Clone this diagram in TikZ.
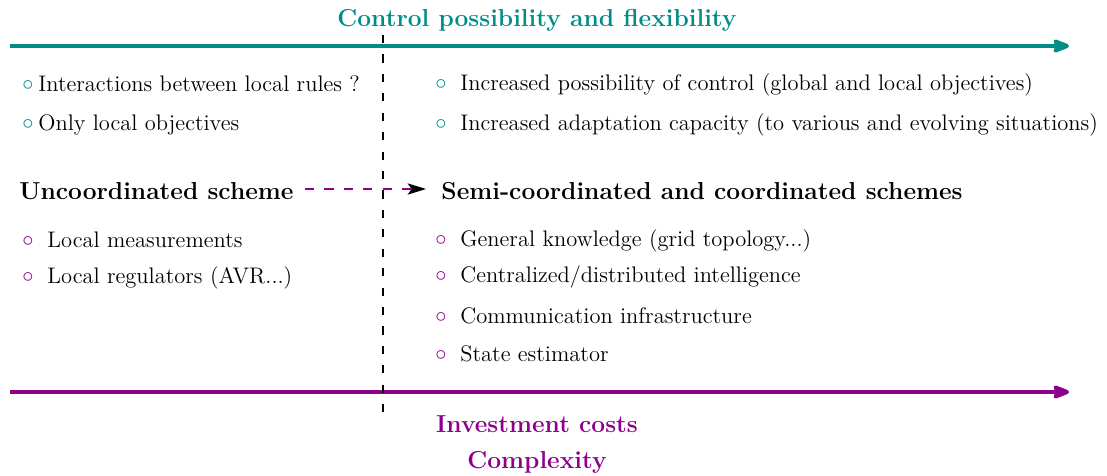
\documentclass[tikz,border=0pt]{standalone}
\usetikzlibrary{arrows.meta}
\definecolor{tealc}{RGB}{0,140,135}
\definecolor{purpc}{RGB}{140,0,140}
\begin{document}
\begin{tikzpicture}[x=0.489pt,y=-0.489pt,
  txt/.style={anchor=west,inner sep=0pt,text height=7.5pt,text depth=2.5pt,font=\fontsize{11}{13}\selectfont},
  hdr/.style={anchor=west,inner sep=0pt,text height=8pt,text depth=2.5pt,font=\fontsize{12}{14}\selectfont\bfseries},
  ttl/.style={inner sep=0pt,font=\fontsize{12}{14}\selectfont\bfseries},
  tb/.style={inner sep=0pt,text=tealc,font=\fontsize{11}{13}\selectfont},
  pb/.style={inner sep=0pt,text=purpc,font=\fontsize{11}{13}\selectfont},
  axis/.style={line width=2pt,-{Stealth[length=11pt,width=8.5pt,inset=3pt,round]}},
  divider/.style={line width=0.8pt,dash pattern=on 4pt off 5.5pt}]
\useasboundingbox (0,0) rectangle (1107,475);
% top axis
\node[ttl,text=tealc] (ttl) at (537,20) {Control possibility and flexibility};
\coordinate (ta0) at (10,46);
\coordinate (ta1) at (1069,46);
\draw[axis,tealc] (ta0) -- (ta1);
% bottom axis
\coordinate (ba0) at (10,392);
\coordinate (ba1) at (1069,392);
\draw[axis,purpc] (ba0) -- (ba1);
% divider
\coordinate (d0) at (383,35);
\coordinate (d1) at (383,412);
\draw[divider] (d0) -- (d1);
% left teal bullets
\node[tb] (bl1) at (28,86) {$\circ$};
\node[txt] (l1) at (38,86) {Interactions between local rules ?};
\node[tb] (bl2) at (28,125) {$\circ$};
\node[txt] (l2) at (38,125) {Only local objectives};
% right teal bullets
\node[tb] (br1) at (441,85) {$\circ$};
\node[txt] (r1) at (460,85) {Increased possibility of control (global and local objectives)};
\node[tb] (br2) at (441,125) {$\circ$};
\node[txt] (r2) at (460,125) {Increased adaptation capacity (to various and evolving situations)};
% headers
\node[hdr] (unc) at (19,194) {Uncoordinated scheme};
\node[hdr] (semi) at (441,194) {Semi-coordinated and coordinated schemes};
\coordinate (da0) at (305,189);
\coordinate (da1) at (426,189);
\draw[purpc,line width=0.6pt,dash pattern=on 4.5pt off 5pt,-{Stealth[black,length=9pt,width=5.5pt,inset=2pt]}] (da0) -- (da1);
% left purple bullets
\node[pb] (bp1) at (28,242) {$\circ$};
\node[txt] (p1) at (47,242) {Local measurements};
\node[pb] (bp2) at (28,278) {$\circ$};
\node[txt] (p2) at (47,278) {Local regulators (AVR...)};
% right purple bullets
\node[pb] (bq1) at (441,241) {$\circ$};
\node[txt] (q1) at (460,241) {General knowledge (grid topology...)};
\node[pb] (bq2) at (441,277) {$\circ$};
\node[txt] (q2) at (460,277) {Centralized/distributed intelligence};
\node[pb] (bq3) at (441,318) {$\circ$};
\node[txt] (q3) at (460,318) {Communication infrastructure};
\node[pb] (bq4) at (441,356) {$\circ$};
\node[txt] (q4) at (460,356) {State estimator};
% bottom labels
\node[ttl,text=purpc] (inv) at (537,424) {Investment costs};
\node[ttl,text=purpc] (cpx) at (537,462) {Complexity};
\end{tikzpicture}
\end{document}
